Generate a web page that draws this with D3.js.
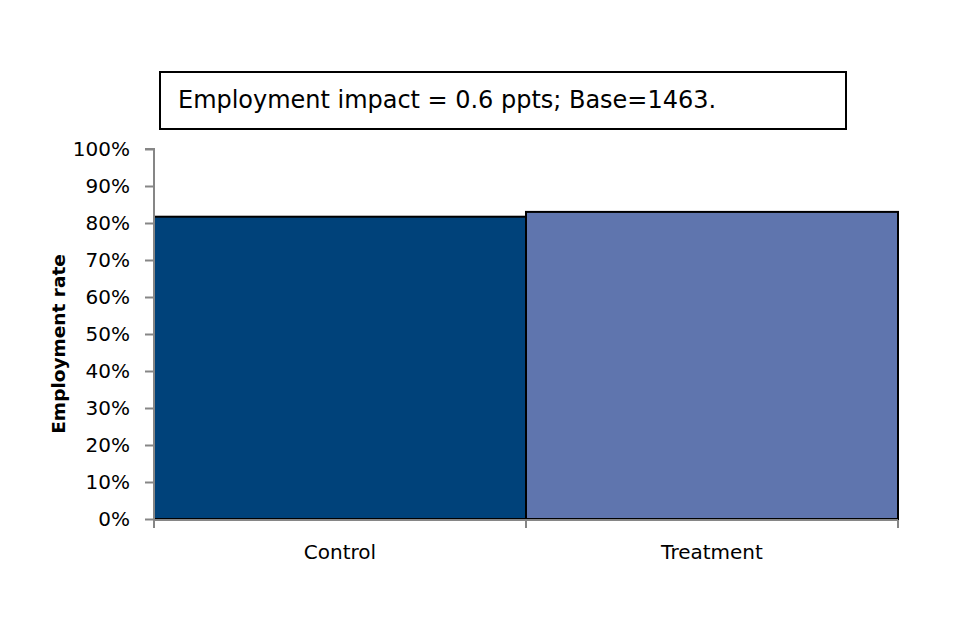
<!DOCTYPE html>
<html>
<head>
<meta charset="utf-8">
<script src="https://cdn.jsdelivr.net/npm/d3@7"></script>
<style>
body{margin:0;background:#fff;}
text{font-family:"DejaVu Sans",Verdana,sans-serif;}
</style>
</head>
<body>
<svg id="chart" width="960" height="640"></svg>
<script>
const categories = ["Control", "Treatment"];
const values = [81.7, 83.0];
const colors = ["#00427a", "#5f75ae"];
const yTicks = [0,10,20,30,40,50,60,70,80,90,100];
const title = "Employment impact = 0.6 ppts; Base=1463.";
const yLabel = "Employment rate";

const svg = d3.select("#chart");
const pL = 154, pR = 898, pT = 149, pB = 519;

const x = d3.scaleBand().domain(categories).range([pL, pR]).padding(0);
const y = d3.scaleLinear().domain([0,100]).range([pB, pT]);

// bars
svg.selectAll("rect.bar").data(categories).enter().append("rect")
  .attr("class","bar")
  .attr("x", d => x(d))
  .attr("width", x.bandwidth())
  .attr("y", (d,i) => y(values[i]))
  .attr("height", (d,i) => pB - y(values[i]))
  .attr("fill", (d,i) => colors[i])
  .attr("stroke", "#000")
  .attr("stroke-width", 2);

// y axis
const yAxis = d3.axisLeft(y).tickValues(yTicks).tickFormat(d => d + "%").tickSize(9).tickPadding(15);
const gy = svg.append("g").attr("transform", `translate(${pL},0)`).call(yAxis);
gy.attr("font-size", null).attr("font-family", null);
gy.select(".domain").attr("stroke","#868686").attr("stroke-width",2).attr("d", `M-9,${pT}H0V${pB}`);
gy.selectAll(".tick line").attr("stroke","#868686").attr("stroke-width",2);
gy.selectAll(".tick text").attr("fill","#000")
  .style("font-size","20px").style("font-family","'DejaVu Sans',sans-serif");

// x axis
const gx = svg.append("g").attr("transform", `translate(0,${pB+1})`);
gx.append("line").attr("x1", pL).attr("x2", pR).attr("y1",0).attr("y2",0)
  .attr("stroke","#868686").attr("stroke-width",2);
const xTickPos = [pL, ...categories.map(c => x(c) + x.bandwidth())];
gx.selectAll("line.tk").data(xTickPos).enter().append("line").attr("class","tk")
  .attr("x1", d=>d).attr("x2", d=>d).attr("y1",0).attr("y2",8)
  .attr("stroke","#868686").attr("stroke-width",2);
gx.selectAll("text.cat").data(categories).enter().append("text").attr("class","cat")
  .attr("x", d => x(d) + x.bandwidth()/2).attr("y", 39)
  .attr("text-anchor","middle").attr("fill","#000")
  .style("font-size","20px").style("font-family","'DejaVu Sans',sans-serif")
  .text(d => d);

// y label
svg.append("text")
  .attr("transform", `translate(65,${(pT+pB)/2 + 10}) rotate(-90)`)
  .attr("text-anchor","middle").attr("font-weight","bold")
  .style("font-size","18.5px").style("font-family","'DejaVu Sans',sans-serif")
  .text(yLabel);

// title box
svg.append("rect").attr("x",160).attr("y",72).attr("width",686).attr("height",57)
  .attr("fill","#fff").attr("stroke","#000").attr("stroke-width",2);
svg.append("text").attr("x",178).attr("y",108).attr("font-size",24)
  .attr("textLength",538).attr("lengthAdjust","spacingAndGlyphs")
  .style("font-family","'DejaVu Sans Condensed','DejaVu Sans',sans-serif")
  .text(title);
</script>
</body>
</html>
